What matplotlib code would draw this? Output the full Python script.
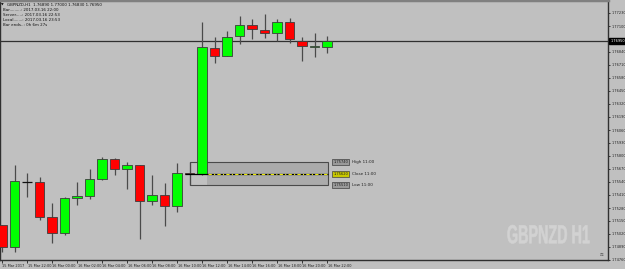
import matplotlib
matplotlib.use("Agg")
import matplotlib.pyplot as plt
from matplotlib.patches import Rectangle, PathPatch
from matplotlib.textpath import TextPath
from matplotlib.font_manager import FontProperties
import matplotlib.transforms as mtransforms

# ---------------- data ----------------
opens  = [1.7511, 1.7489, 1.7554, 1.7554, 1.7519, 1.7503, 1.7538, 1.7540, 1.7557,
          1.7577, 1.7567, 1.7571, 1.7535, 1.7541, 1.7530, 1.7563, 1.7562, 1.7688,
          1.7680, 1.7700, 1.7711, 1.7706, 1.7703, 1.7714, 1.7695, 1.7689, 1.7689]
highs  = [1.7511, 1.7571, 1.7563, 1.7559, 1.7533, 1.7539, 1.7554, 1.7567, 1.7579,
          1.7578, 1.7574, 1.7571, 1.7561, 1.7553, 1.7573, 1.7574, 1.7714, 1.7699,
          1.7705, 1.7720, 1.7717, 1.7722, 1.7717, 1.7718, 1.7699, 1.7703, 1.7700]
lows   = [1.7484, 1.7484, 1.7539, 1.7516, 1.7493, 1.7501, 1.7531, 1.7537, 1.7556,
          1.7561, 1.7547, 1.7497, 1.7531, 1.7510, 1.7524, 1.7551, 1.7561, 1.7673,
          1.7680, 1.7692, 1.7697, 1.7698, 1.7695, 1.7693, 1.7675, 1.7679, 1.7683]
closes = [1.7489, 1.7555, 1.7554, 1.7519, 1.7503, 1.7538, 1.7540, 1.7557, 1.7577,
          1.7567, 1.7571, 1.7535, 1.7541, 1.7530, 1.7563, 1.7562, 1.7689, 1.7680,
          1.7699, 1.7711, 1.7707, 1.7703, 1.7714, 1.7697, 1.7690, 1.7690, 1.7695]

x_tick_idx = [0, 2, 4, 6, 8, 10, 12, 14, 16, 18, 20, 22, 24, 26]
x_tick_labels = ["15 Mar 2017", "15 Mar 22:00", "16 Mar 00:00", "16 Mar 02:00",
                 "16 Mar 04:00", "16 Mar 06:00", "16 Mar 08:00", "16 Mar 10:00",
                 "16 Mar 12:00", "16 Mar 14:00", "16 Mar 16:00", "16 Mar 18:00",
                 "16 Mar 20:00", "16 Mar 22:00"]
y_ticks = [1.77230, 1.77100, 1.76840, 1.76710, 1.76580, 1.76450, 1.76320,
           1.76190, 1.76060, 1.75930, 1.75800, 1.75670, 1.75540, 1.75410,
           1.75280, 1.75150, 1.75020, 1.74890, 1.74760]
bid = 1.76950

ref_idx = 15
ref_high, ref_close, ref_low = 1.7574, 1.7562, 1.7551
ref_labels = ["High 11:00", "Close 11:00", "Low 11:00"]

header = ["GBPNZD,H1  1.76890 1.77000 1.76830 1.76950",
          "Bar.........: 2017.03.16 22:00",
          "Server.....: 2017.03.16 22:53",
          "Local.......: 2017.03.16 23:53",
          "Bar ends..: 0h 6m 27s"]
watermark = "GBPNZD H1"

# ---------------- figure ----------------
BG = "#c0c0c0"
W, H = 625, 269
fig = plt.figure(figsize=(W / 100, H / 100), dpi=100, facecolor=BG)
ax = fig.add_axes([0, 9 / H, 608 / W, 260 / H], facecolor=BG)
ax.set_xlim(-0.16, 48.48)
ax.set_ylim(1.7476, 1.7736)

# reference rectangle (behind candles)
ax.add_patch(Rectangle((16.4, ref_low), 26.1 - 16.4, ref_high - ref_low,
                       facecolor="#ababab", edgecolor="none", zorder=1))
ax.add_patch(Rectangle((ref_idx, ref_low), 26.1 - ref_idx, ref_high - ref_low,
                       facecolor="none", edgecolor="#4a4a4a", lw=0.8, zorder=2))

bw = 0.76
for i, (o, h, l, c) in enumerate(zip(opens, highs, lows, closes)):
    ax.vlines(i, l, h, color="#4a4a4a", lw=0.9, zorder=3)
    if abs(c - o) < 0.00005:
        ax.hlines(c, i - bw / 2, i + bw / 2, color="#111111", lw=0.9, zorder=4)
        continue
    col = "#00ff00" if c > o else "#ff0000"
    ax.add_patch(Rectangle((i - bw / 2, min(o, c)), bw, abs(c - o),
                           facecolor=col, edgecolor="#3c3c3c", lw=0.6, zorder=4))

# close line of reference candle
ax.hlines(ref_close, ref_idx - 0.35, 26.1, color="black", lw=0.9, zorder=5)
ax.hlines(ref_close, 16.5, 26.1, color="#e8e800", lw=0.8,
          linestyles=(0, (3, 2, 1, 2)), zorder=6)

# labels for reference lines
for val, lab, boxc in zip([ref_high, ref_close, ref_low], ref_labels,
                          ["#9a9a9a", "#c8c800", "#9a9a9a"]):
    ax.text(26.5, val, f"{val:.5f}", fontsize=2.6, color="#202020",
            va="center", ha="left", zorder=7,
            bbox=dict(boxstyle="square,pad=0.25", fc=boxc, ec="#404040", lw=0.5))
    ax.text(28.0, val, lab, fontsize=3.0, color="#202020",
            va="center", ha="left", zorder=7)

# bid line
ax.axhline(bid, color="#303030", lw=0.9, zorder=2)

# header
for k, line in enumerate(header):
    ax.text(0.012 if k == 0 else 0.005, 1 - (5 + 5 * k) / 260, line,
            transform=ax.transAxes, fontsize=2.9, color="#101010",
            ha="left", va="center")
ax.text(0.002, 1 - 5 / 260, "\u25bc", transform=ax.transAxes, fontsize=2.5,
        color="#101010", ha="left", va="center")

# axes styling
for s in ["top", "left", "right", "bottom"]:
    ax.spines[s].set_color("#303030")
    ax.spines[s].set_linewidth(1.0)
ax.spines["top"].set_linewidth(2.5)
ax.spines["top"].set_color("#808080")
ax.yaxis.tick_right()
ax.set_yticks(y_ticks)
ax.set_yticklabels([f"{v:.5f}" for v in y_ticks])
ax.tick_params(axis="y", length=1.5, width=0.6, pad=0.8, labelsize=2.5,
               colors="#202020")
ax.set_xticks(x_tick_idx)
ax.set_xticklabels(x_tick_labels, ha="left")
ax.tick_params(axis="x", length=2, width=0.6, pad=1, labelsize=2.5,
               colors="#202020")
offset = mtransforms.ScaledTranslation(0.5 / 100, 0, fig.dpi_scale_trans)
for t in ax.get_xticklabels():
    t.set_transform(t.get_transform() + offset)

# current price box
trans = mtransforms.blended_transform_factory(ax.transAxes, ax.transData)
ax.text(1.004, bid, f"{bid:.5f}", transform=trans, fontsize=2.5, color="white",
        va="center", ha="left", clip_on=False, zorder=10,
        bbox=dict(boxstyle="square,pad=0.4", fc="black", ec="black"))

# small icon at bottom-right corner of the chart
ax.text(0.992, 0.012, "\u2696", transform=ax.transAxes, fontsize=3,
        color="#404040", ha="right", va="bottom")

# watermark (condensed bold text, placed in pixel coords)
tp = TextPath((0, 0), watermark, size=20,
              prop=FontProperties(family="Liberation Sans", weight="bold"))
ext = tp.get_extents()
sx = 82 / ext.width
sy = 18.5 / ext.height
tr = mtransforms.Affine2D().translate(-ext.x0, -ext.y0).scale(sx, sy).translate(507.5, H - 243.5)
fig.add_artist(PathPatch(tp, transform=tr, facecolor="#d2d2d2", edgecolor="#d2d2d2",
                         lw=0.4, zorder=1))

fig.savefig("out.png", dpi=100, facecolor=BG)
